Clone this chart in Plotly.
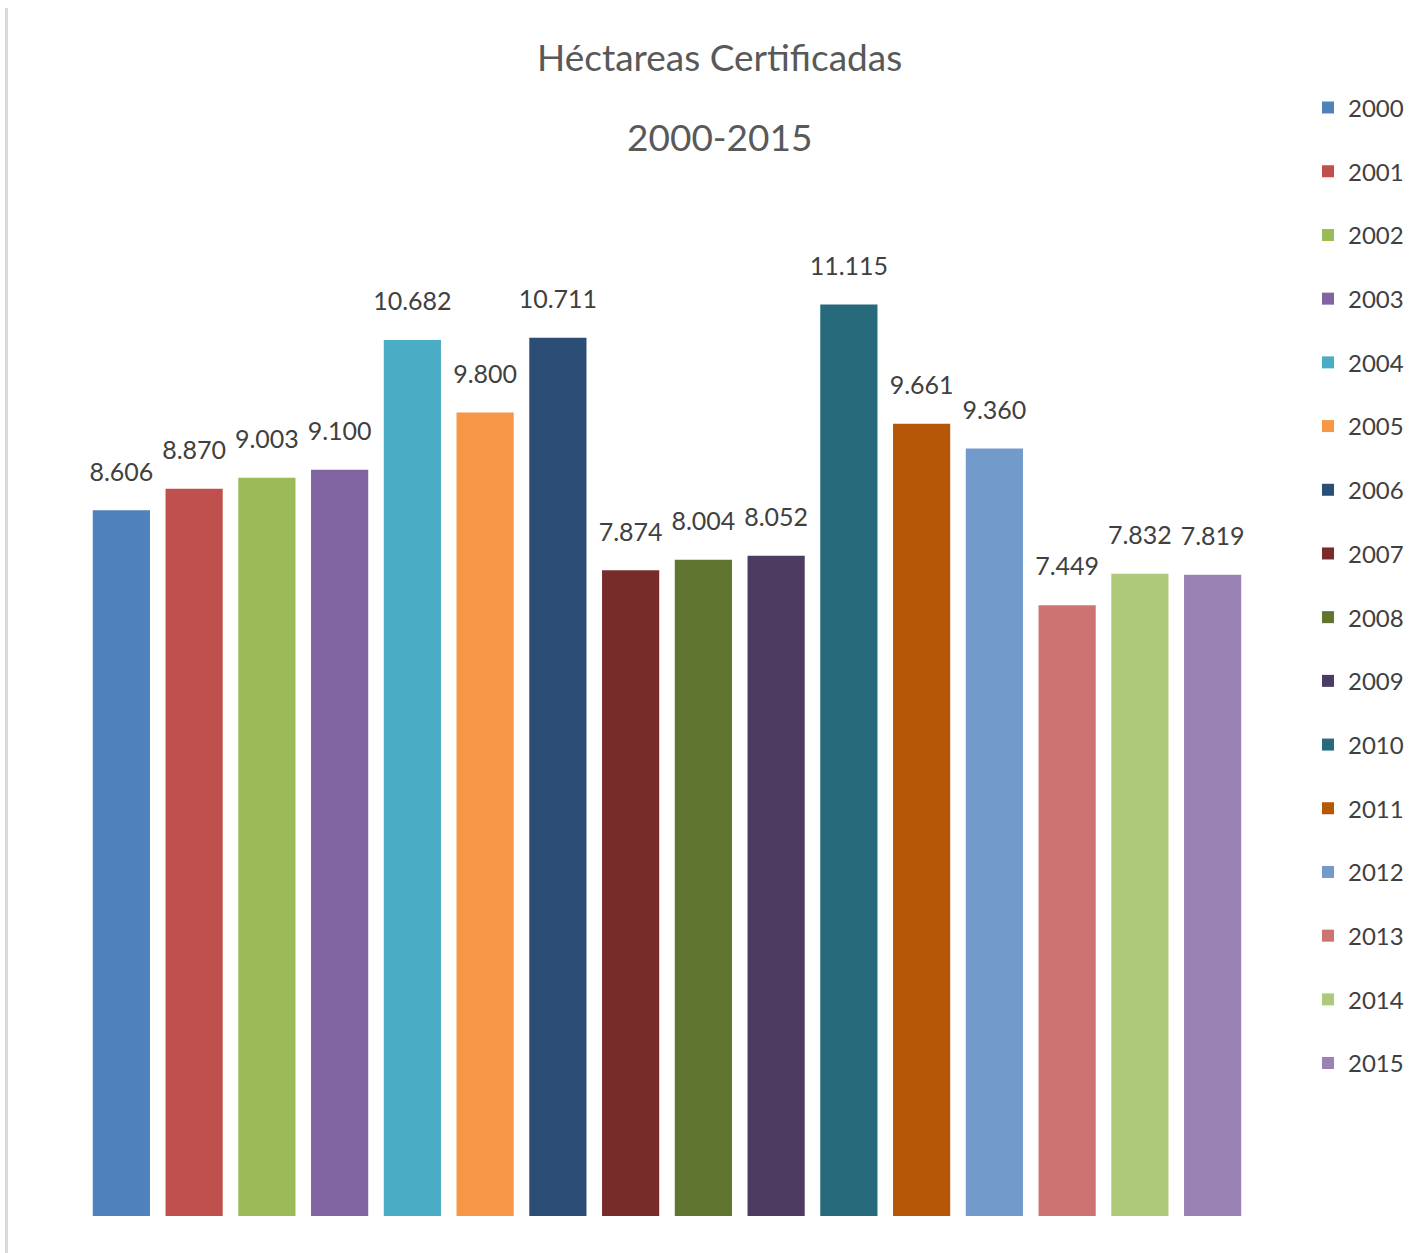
import plotly.graph_objects as go

years = ["2000", "2001", "2002", "2003", "2004", "2005", "2006", "2007",
         "2008", "2009", "2010", "2011", "2012", "2013", "2014", "2015"]
hectares = [8606, 8870, 9003, 9100, 10682, 9800, 10711, 7874,
            8004, 8052, 11115, 9661, 9360, 7449, 7832, 7819]
colors = ["#4F81BD", "#C0504D", "#9BBB59", "#8064A2", "#4BACC6", "#F79646",
          "#2C4D75", "#772C2A", "#5F7530", "#4D3B62", "#276A7C", "#B65708",
          "#729ACA", "#CD7371", "#AFC97A", "#9983B5"]
title_line1 = "Héctareas Certificadas"
title_line2 = "2000-2015"

FONT = "Lato, Carlito, Open Sans, sans-serif"
TXT = "#404040"
LABEL_SIZE = 25

labels = [f"{v:,}".replace(",", ".") for v in hectares]

fig = go.Figure()
for yr, val, col in zip(years, hectares, colors):
    fig.add_trace(go.Bar(
        x=[yr], y=[val], name=yr, legendgroup=yr,
        marker=dict(color=col, line=dict(width=0)),
        width=0.786,
        hoverinfo="x+y",
    ))

# data labels (invisible markers give the gap above the bars)
fig.add_trace(go.Scatter(
    x=years, y=hectares, mode="markers+text", text=labels,
    textposition="top center",
    marker=dict(size=36, color="rgba(0,0,0,0)"),
    textfont=dict(family=FONT, size=LABEL_SIZE, color=TXT),
    showlegend=False, hoverinfo="skip", cliponaxis=False,
))

fig.add_annotation(x=0.5453, y=1.0873, xref="paper", yref="paper",
                   text=title_line1, showarrow=False, yanchor="middle",
                   font=dict(family=FONT, size=37, color="#595959"))
fig.add_annotation(x=0.5453, y=1.0122, xref="paper", yref="paper",
                   text=title_line2, showarrow=False, yanchor="middle",
                   font=dict(family=FONT, size=37, color="#595959"))

fig.add_shape(type="line", xref="paper", yref="paper",
              x0=-0.0675, x1=-0.0675, y0=-0.04, y1=1.1332,
              line=dict(color="#d9d9d9", width=3))

LEG_SIZE = 24
fig.update_layout(
    width=1420, height=1253,
    margin=dict(l=85, r=171, t=150, b=37, autoexpand=False),
    paper_bgcolor="white", plot_bgcolor="white",
    barmode="overlay",
    showlegend=True,
    legend=dict(
        xref="container", yref="paper",
        x=1308 / 1420, y=0.5915, xanchor="left", yanchor="middle",
        font=dict(family=FONT, size=LEG_SIZE, color=TXT),
        tracegroupgap=29.5,
        bgcolor="rgba(0,0,0,0)",
    ),
    xaxis=dict(type="category", range=[-0.5, 15.5], showticklabels=False,
               showgrid=False, zeroline=False, showline=False, ticks=""),
    yaxis=dict(range=[0, 13000], showticklabels=False, showgrid=False,
               zeroline=False, showline=False, ticks=""),
)

fig.write_html("out.html",
               config={"displayModeBar": False},
               post_script="document.body.style.margin='0px';"
                           "document.body.style.overflow='hidden';")
